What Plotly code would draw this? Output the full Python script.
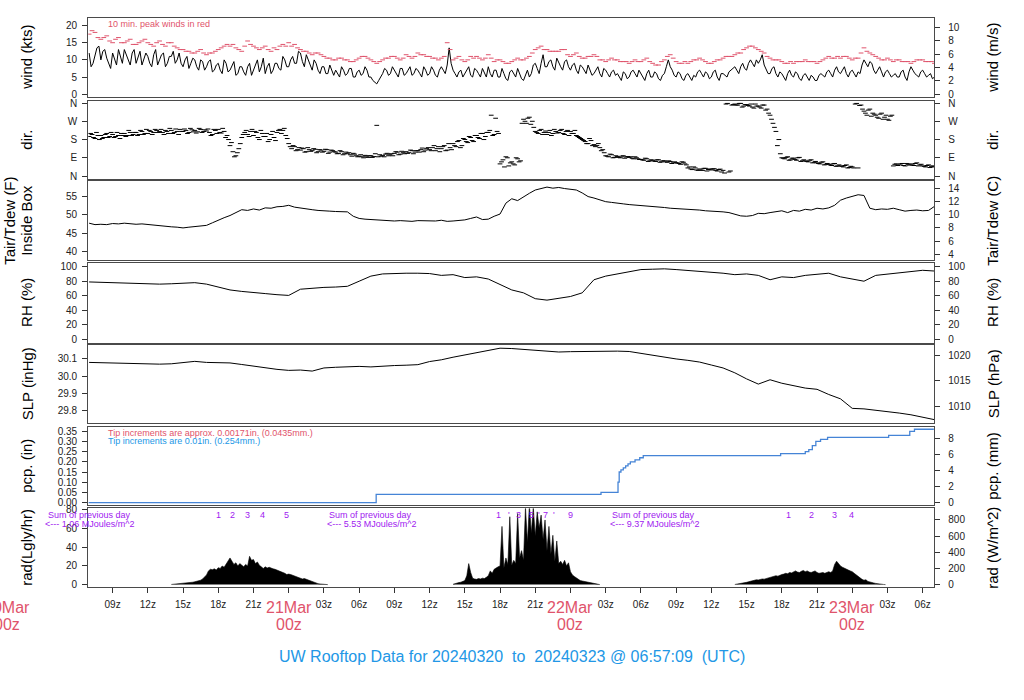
import pandas as pd
import plotly.graph_objects as go

# ---------------------------------------------------------------- data
BASE = "2024-03-20 00:00"

# wind speed (kts), every 20 min from 20Mar 07z
wind_start = "2024-03-20 07:00"
wind_kts = [
    12, 9, 13.5, 10, 13, 9, 12, 8.5, 11, 13, 10, 12, 9, 12.5, 10, 11, 8, 13,
    10, 12, 9, 11, 9, 12, 8, 11, 9, 10, 7, 9.5, 8, 10, 7, 9, 6, 9,
    7, 9.5, 6, 8, 5.5, 9, 7, 10, 8, 6, 9, 7, 9, 7, 10, 8, 11, 9,
    12, 8, 10, 7, 9, 6, 8, 6, 7, 7, 5, 7, 6, 7.5, 5, 7, 6, 7,
    5, 3.5, 4, 6, 7, 6, 7, 5, 7.5, 6, 8, 6, 7, 5, 7, 6, 7, 5,
    8, 6, 13.5, 7, 5, 7, 6, 8, 5, 7, 5, 6, 8, 5, 7, 5, 6, 4,
    7, 5, 6, 4, 7, 6, 9, 6, 11.5, 8, 10, 7, 9, 7, 10, 7, 9, 6,
    8, 6, 7, 6, 8, 5, 7, 5, 7, 6, 4, 6, 5, 7, 5, 6, 4, 7,
    5, 6, 4, 6, 10, 7, 5, 6, 4, 6, 4, 5, 7, 5, 6, 5, 7, 4,
    6, 5, 7, 8, 6, 9, 7, 10, 8, 9, 11.5, 7, 6, 8, 5, 6, 4, 7,
    5, 6, 4, 6, 4, 5, 4, 6, 5, 7, 5, 8, 6, 8, 5, 7, 5, 6,
    10, 8, 9, 6, 8, 5, 7, 5, 6, 5, 7, 4, 8, 6, 5, 7, 5, 6,
    5,
]
# wind speed (kts) at the 10-min points between the values above
wind_kts_mid = [
    8, 11, 14, 12.5, 10.5, 7.5, 10, 13, 9, 11.5, 8.5, 13, 11, 8.5, 12, 9, 11.5, 8.5,
    11.5, 8, 11, 12.5, 10, 9, 10, 7.5, 10.5, 8, 10, 7, 9.5, 6.5, 8.5, 7, 10, 6.5,
    8.5, 5.5, 8, 6.5, 8, 5.5, 9, 6.5, 10.5, 8, 6, 9, 7.5, 11, 8, 10, 9, 12.5,
    9.5, 11.5, 8, 10, 7, 8, 6, 8.5, 5.5, 6, 8, 5.5, 7.5, 5, 6.5, 5.5, 8, 5,
    4, 3, 5, 7.5, 5.5, 8, 6, 7.5, 5.5, 7, 5.5, 7.5, 6, 8, 5.5, 8, 5.5, 7,
    7, 8.5, 9, 6, 6.5, 5, 7, 5.5, 7.5, 6, 7.5, 5, 6, 7, 5, 7.5, 4.5, 6.5,
    6, 7.5, 4.5, 5.5, 5, 8.5, 7.5, 9, 8, 9.5, 8, 10.5, 8, 9.5, 8, 8.5, 7, 8.5,
    7, 8.5, 5.5, 7, 6, 7.5, 6, 6.5, 5.5, 5, 6.5, 4.5, 6.5, 6, 7, 5, 6, 5,
    6.5, 4.5, 5.5, 8, 8, 5.5, 6.5, 4.5, 5.5, 5, 5.5, 6.5, 6, 6.5, 4.5, 6.5, 5, 6,
    5.5, 6.5, 7.5, 7, 8, 7.5, 9, 9, 10, 10, 8.5, 6, 7.5, 6, 6.5, 5, 6, 5.5,
    6.5, 4.5, 5.5, 5, 5.5, 4, 5.5, 5.5, 6.5, 6, 7, 6.5, 7, 6, 6.5, 6, 6.5, 8.5,
    9, 9.5, 7, 7, 6.5, 6.5, 6, 5.5, 5, 6.5, 5, 6.5, 7, 5.5, 6.5, 6, 5.5, 4.5,
]

# 10-min peak wind (kts), every 30 min from 20Mar 07z
peak_start = "2024-03-20 07:00"
peak_kts = [
    17.5, 18, 16, 17, 15, 16.5, 15, 16, 14.5, 15.5, 15, 14, 15.5, 14, 15, 13.5,
    13, 12.5, 12, 13, 11.5, 12, 13, 14, 14, 13.5, 12.5, 15.5, 14, 13, 14, 12.5,
    13, 14.5, 15, 14.5, 13, 12.5, 11.5, 12, 11, 10.5, 10, 10.5, 10, 9.5, 10.5, 11,
    10, 9, 10, 10.5, 11, 10, 11.5, 10.5, 12, 11.5, 11, 10.5, 10.5, 15, 10, 11,
    9.5, 11, 11, 10, 11.5, 9.5, 10, 9, 9.5, 10.5, 10, 11, 13, 14, 13, 12.5,
    12.5, 13, 11, 12, 10.5, 11, 11.5, 10, 9.5, 10.5, 10, 9.5, 9, 10, 9.5, 10.5,
    9, 8.5, 10, 11.5, 9.5, 9, 9, 10, 10.5, 9.5, 9, 10, 10.5, 11, 11.5, 12,
    13.5, 14, 13, 12, 10.5, 10, 9.5, 9, 9, 9.5, 10, 9.5, 9, 10, 11, 10.5,
    10.5, 11, 10, 10.5, 13.5, 12, 11, 10, 10.5, 9.5, 10, 9.5, 9, 10, 10, 9.5,
    9,
]
# peak wind (kts) at the 15-min points between the values above
peak_kts_mid = [
    18.5, 16.5, 16.5, 15.5, 16, 15, 15.5, 14.5, 15, 16, 14.5, 15, 14.5, 15, 14, 13,
    12.5, 12, 12.5, 12, 12, 12.5, 13.5, 14.5, 14.5, 13, 14, 14.5, 13.5, 13.5, 13, 13.5,
    14, 14, 14, 13.5, 12.5, 12, 12, 11.5, 10.5, 10, 10.5, 10, 9.5, 10, 11, 10.5,
    9.5, 9.5, 10.5, 11, 10.5, 10.5, 11, 11, 11.5, 11, 10.5, 10, 11, 13, 10.5, 10,
    10, 10.5, 10.5, 10.5, 10.5, 10, 9.5, 9, 10, 10, 10.5, 12, 13.5, 13, 12.5, 12.5,
    13, 11.5, 11.5, 11, 10.5, 11, 11, 10, 10, 10, 9.5, 9.5, 9.5, 9.5, 10, 9.5,
    8.5, 9.5, 11, 10.5, 9, 9.5, 9.5, 10, 10, 9, 9.5, 10, 11, 11, 12, 13,
    14, 13.5, 12.5, 11, 10, 10, 9, 9.5, 9.5, 9.5, 9.5, 9.5, 9.5, 10.5, 10.5, 11,
    11, 10.5, 10.5, 12, 12.5, 11.5, 10.5, 10, 10, 10, 9.5, 9.5, 9.5, 10, 9.5, 9.5,
]

# wind direction (deg), every 15 min from 20Mar 07z
dir_start = "2024-03-20 07:00"
dir_deg = [
    195, 205, 185, 200, 200, 190, 210, 195, 205, 195, 200, 210, 210, 200, 215, 205,
    215, 205, 220, 210, 210, 220, 215, 225, 220, 215, 225, 210, 225, 215, 220, 230,
    220, 225, 215, 228, 225, 218, 230, 220, 222, 215, 205, 225, 230, 212, 220, 200,
    150, 120, 100, 135, 190, 215, 205, 220, 200, 215, 180, 210, 195, 170, 205, 190,
    215, 230, 225, 200, 160, 135, 145, 130, 128, 135, 120, 130, 125, 132, 120, 128,
    122, 130, 118, 125, 118, 112, 120, 110, 110, 105, 112, 100, 98, 95, 102, 92,
    100, 96, 250, 105, 102, 108, 100, 110, 112, 118, 108, 115, 120, 115, 125, 118,
    125, 130, 120, 135, 130, 140, 125, 145, 135, 150, 128, 140, 160, 145, 175, 150,
    180, 165, 190, 170, 200, 185, 210, 195, 215, 300, 205, 220, 60, 80, 95, 50,
    70, 55, 85, 75, 280, 260, 290, 270, 220, 210, 230, 215, 205, 225, 210, 220,
    215, 230, 205, 225, 220, 210, 200, 190, 180, 170, 160, 175, 155, 150, 140, 130,
    100, 95, 105, 92, 96, 90, 100, 94, 92, 88, 95, 85, 82, 78, 85, 75,
    78, 72, 80, 70, 75, 68, 72, 65, 66, 62, 70, 60, 40, 35, 45, 30,
    35, 28, 38, 32, 30, 36, 25, 34, 28, 355, 20, 350, 355, 350, 358, 345,
    352, 345, 340, 355, 345, 335, 350, 330, 300, 260, 220, 180, 90, 85, 95, 80,
    88, 78, 92, 75, 75, 70, 80, 68, 65, 60, 70, 58, 58, 52, 62, 50,
    50, 45, 55, 42, 45, 355, 40, 350, 320, 300, 330, 310, 300, 285, 310, 290,
    280, 295, 50, 60, 55, 62, 50, 58, 60, 52, 65, 55, 50, 45, 55, 48,
    45,
]
# wind direction (deg), every 15 min from 20Mar 07:07:30 (scatter samples)
dir_b_start = "2024-03-20 07:07:30"
dir_deg_b = [
    210, 190, 215, 180, 185, 205, 190, 215, 190, 215, 185, 200, 195, 225, 200, 215,
    200, 225, 205, 230, 225, 205, 230, 215, 230, 205, 220, 235, 210, 232, 205, 220,
    232, 210, 235, 218, 212, 235, 215, 228, 232, 200, 230, 210, 215, 235, 190, 180,
    165, 95, 115, 160, 205, 225, 195, 230, 220, 190, 225, 195, 210, 180, 220, 175,
    225, 210, 235, 185, 145, 150, 125, 140, 138, 118, 140, 122, 135, 115, 130, 118,
    132, 112, 128, 120, 110, 125, 105, 118, 115, 98, 108, 95, 105, 90, 98, 100,
    92, 110, 95, 98, 95, 112, 105, 100, 120, 105, 122, 110, 112, 128, 110, 125,
    118, 138, 128, 140, 125, 150, 135, 120, 145, 125, 160, 130, 150, 170, 140, 185,
    170, 195, 175, 200, 190, 210, 180, 215, 225, 200, 285, 210, 70, 45, 90, 65,
    60, 90, 70, 260, 270, 285, 255, 240, 215, 225, 205, 222, 215, 200, 230, 212,
    225, 210, 220, 200, 210, 225, 195, 185, 175, 160, 185, 150, 145, 160, 125, 115,
    98, 108, 90, 100, 92, 98, 88, 96, 95, 85, 90, 82, 80, 88, 72, 80,
    74, 80, 68, 75, 70, 75, 62, 70, 64, 58, 68, 55, 45, 32, 40, 28,
    30, 38, 25, 35, 35, 28, 32, 20, 15, 358, 25, 352, 350, 358, 340, 352,
    348, 355, 335, 345, 340, 350, 325, 310, 280, 240, 150, 110, 88, 92, 78, 88,
    82, 90, 72, 80, 72, 78, 65, 72, 62, 68, 55, 62, 55, 60, 48, 55,
    48, 52, 40, 48, 40, 358, 348, 330, 310, 325, 295, 305, 290, 305, 280, 300,
    275, 300, 58, 52, 60, 52, 62, 54, 55, 62, 50, 58, 48, 52, 42, 50,
]

# air temperature inside box (F), every 30 min from 20Mar 07z
temp_start = "2024-03-20 07:00"
temp_f = [
    47.7, 47.3, 47.4, 47.3, 47.6, 47.5, 47.7, 47.5, 47.4, 47.5, 47.3, 47.2,
    47.0, 46.9, 46.7, 46.6, 46.4, 46.6, 46.8, 46.9, 47.1, 47.8, 48.6, 49.2,
    49.8, 50.6, 51.4, 51.2, 51.6, 51.3, 51.9, 51.8, 52.2, 52.3, 52.6, 52.1,
    51.8, 51.5, 51.4, 51.2, 51.0, 51.0, 50.9, 50.9, 50.8, 49.6, 49.0, 48.8,
    48.7, 48.6, 48.4, 48.3, 48.3, 48.4, 48.3, 48.2, 48.4, 48.3, 48.4, 48.3,
    48.5, 48.2, 48.3, 48.4, 48.6, 49.0, 49.4, 48.7, 48.8, 49.6, 50.2, 53.2,
    54.4, 53.9, 55.0, 55.9, 56.8, 57.1, 57.6, 57.3, 57.5, 57.2, 57.1, 56.8,
    56.0, 55.0, 54.6, 54.0, 53.6, 53.4, 53.3, 53.0, 52.8, 52.7, 52.5, 52.4,
    52.2, 52.3, 52.0, 51.8, 51.7, 51.6, 51.5, 51.6, 51.3, 51.1, 51.0, 51.1,
    50.8, 50.6, 50.2, 49.7, 49.6, 49.8, 50.4, 50.3, 50.6, 50.8, 51.1, 50.6,
    51.2, 51.0, 51.5, 51.3, 51.8, 51.6, 51.9, 52.6, 54.0, 54.6, 55.0, 55.5,
    55.3, 51.8, 51.4, 51.6, 51.5, 51.8, 51.4, 51.0, 51.2, 51.3, 51.1, 51.2,
    52.3,
]

# relative humidity (%), hourly from 20Mar 07z
rh_start = "2024-03-20 07:00"
rh_pct = [
    79, 78.5, 78, 77.5, 76, 75.5, 76, 76.5, 77, 78, 76, 72,
    68, 66, 64, 63, 61.5, 60.5, 69, 70.5, 71.5, 72, 73, 80,
    87, 90, 91, 91, 91, 90.5, 88, 89, 85, 86, 83, 76,
    68, 64, 56, 54, 56, 59, 64, 82, 87, 90, 94, 96,
    96.5, 97, 96, 95, 93, 92, 91, 89, 90, 88, 82, 86,
    85, 88, 90, 91, 86, 83, 80, 88, 90, 92, 94, 95,
    94,
]

# sea-level pressure (inHg), hourly from 20Mar 07z
slp_start = "2024-03-20 07:00"
slp_inhg = [
    30.080, 30.078, 30.077, 30.075, 30.072, 30.071, 30.070, 30.072, 30.080, 30.086, 30.080, 30.078,
    30.077, 30.068, 30.058, 30.050, 30.040, 30.034, 30.036, 30.030, 30.048, 30.052, 30.055, 30.057,
    30.054, 30.060, 30.062, 30.064, 30.067, 30.085, 30.095, 30.110, 30.122, 30.138, 30.148, 30.162,
    30.160, 30.155, 30.146, 30.142, 30.140, 30.142, 30.143, 30.145, 30.144, 30.145, 30.143, 30.132,
    30.118, 30.110, 30.100, 30.092, 30.082, 30.065, 30.048, 30.020, 29.985, 29.955, 29.980, 29.960,
    29.944, 29.932, 29.925, 29.895, 29.870, 29.815, 29.812, 29.805, 29.798, 29.788, 29.778, 29.765,
    29.750,
]

# accumulated precipitation (in), step change times
pcp_time = [
    "2024-03-20 06:57", "2024-03-21 07:27", "2024-03-22 02:36", "2024-03-22 04:03",
    "2024-03-22 04:09", "2024-03-22 04:18", "2024-03-22 04:30", "2024-03-22 04:42",
    "2024-03-22 04:54", "2024-03-22 05:06", "2024-03-22 05:30", "2024-03-22 05:54",
    "2024-03-22 06:12", "2024-03-22 17:54", "2024-03-22 20:00", "2024-03-22 20:18",
    "2024-03-22 20:36", "2024-03-22 20:54", "2024-03-22 21:18", "2024-03-22 21:54",
    "2024-03-23 03:06", "2024-03-23 04:54", "2024-03-23 05:18", "2024-03-23 06:57",
]
pcp_in = [
    0.00, 0.04, 0.05, 0.10, 0.15, 0.16, 0.17, 0.18, 0.19, 0.20, 0.21, 0.22,
    0.23, 0.24, 0.25, 0.26, 0.28, 0.30, 0.31, 0.32, 0.33, 0.35, 0.36, 0.36,
]

# solar radiation (W/m^2), every 10 min during daylight
rad1_start = "2024-03-20 14:00"
rad1_wm2 = [
    2, 4, 6, 8, 10, 12, 14, 16, 20, 22, 26, 30, 35, 40, 45, 55, 70, 95,
    120, 170, 190, 185, 195, 180, 210, 200, 230, 215, 250, 280, 330, 290, 250, 270,
    230, 260, 240, 220, 250, 230, 350, 300, 310, 260, 280, 240, 220, 200, 220, 205,
    215, 200, 195, 190, 180, 175, 160, 150, 140, 125, 130, 125, 115, 100, 90, 80,
    75, 70, 75, 65, 55, 45, 35, 25, 18, 12, 8, 4, 2, 1, 0,
]
rad2_start = "2024-03-21 14:00"
rad2_wm2 = [
    5, 15, 20, 25, 30, 40, 50, 110, 260, 150, 80, 70, 65, 75, 70, 80, 75, 90,
    110, 170, 140, 190, 210, 220, 230, 720, 210, 330, 250, 840, 240, 300, 260, 880, 330, 420,
    300, 960, 520, 980, 640, 960, 600, 900, 700, 860, 560, 800, 420, 720, 380, 610, 290, 540,
    260, 290, 250, 300, 230, 270, 160, 120, 100, 80, 60, 50, 45, 40, 35, 28, 20, 15,
    10, 5, 2, 0,
]
rad3_start = "2024-03-22 14:00"
rad3_wm2 = [
    2, 5, 10, 14, 18, 22, 28, 35, 42, 50, 55, 60, 58, 65, 70, 68, 75, 80,
    85, 95, 100, 110, 105, 120, 125, 130, 140, 135, 150, 145, 160, 170, 155, 150, 165, 175,
    160, 170, 155, 150, 160, 170, 150, 140, 145, 150, 140, 155, 160, 150, 170, 250, 290, 260,
    230, 215, 200, 190, 180, 170, 160, 140, 120, 100, 80, 65, 55, 60, 40, 30, 25, 20,
    15, 10, 7, 4, 2, 0,
]

# annotation texts
day_sums = ["1.06", "5.53", "9.37"]
title_text = "UW Rooftop Data for 20240320  to  20240323 @ 06:57:09  (UTC)"

# ---------------------------------------------------------------- helpers
FONT = "Liberation Sans, Arial, Helvetica, sans-serif"
RED = "#DF536B"
BLUE = "#2297E6"
PURPLE = "#A020F0"
PCPC = "#4584D6"
LC = "#4a4a4a"

W_PX, H_PX = 1024, 700
X0_PX, X1_PX = 88.3, 934.3
XR_H = [6.93, 78.99]
base = pd.Timestamp(BASE)


def ts(h):
    return (base + pd.Timedelta(hours=h)).strftime("%Y-%m-%d %H:%M:%S")


def grid(start, freq, vals):
    return pd.date_range(start, periods=len(vals), freq=freq)


def interleave(a, mid):
    out = []
    for v, m in zip(a[:-1], mid):
        out += [v, m]
    return out + [a[-1]]


def hx(h):  # hours -> paper x (through the axis mapping)
    f = (h - XR_H[0]) / (XR_H[1] - XR_H[0])
    return (X0_PX + f * (X1_PX - X0_PX)) / W_PX


def py(p):
    return 1 - p / H_PX


PANELS = [(13.5, 93.0), (96.7, 175.7), (178.3, 258.3), (261.0, 341.7),
          (344.0, 423.3), (426.7, 505.7), (509.3, 588.7)]

KTS_MS = 1.94384
INHG_HPA = 33.8639
IN_MM = 25.4
LY_W = 11.622

left_specs = [
    dict(range=[-0.8, 22.1], tickvals=[0, 5, 10, 15, 20]),
    dict(range=[-13, 372], tickvals=[0, 90, 180, 270, 360], ticktext=["N", "E", "S", "W", "N"]),
    dict(range=[37.5, 59.2], tickvals=[40, 45, 50, 55]),
    dict(range=[-4.6, 105], tickvals=[0, 20, 40, 60, 80, 100]),
    dict(range=[29.728, 30.18], tickvals=[29.8, 29.9, 30.0, 30.1], tickformat=".1f"),
    dict(range=[-0.0117, 0.372], tickvals=[0, 0.05, 0.1, 0.15, 0.2, 0.25, 0.3, 0.35], tickformat=".2f"),
    dict(range=[-2.5, 81.05], tickvals=[0, 20, 40, 60, 80]),
]
lr = [s["range"] for s in left_specs]
right_specs = [
    dict(range=[v / KTS_MS for v in lr[0]], tickvals=[0, 2, 4, 6, 8, 10]),
    dict(range=lr[1], tickvals=[0, 90, 180, 270, 360], ticktext=["N", "E", "S", "W", "N"]),
    dict(range=[(v - 32) / 1.8 for v in lr[2]], tickvals=[4, 6, 8, 10, 12, 14]),
    dict(range=lr[3], tickvals=[0, 20, 40, 60, 80, 100]),
    dict(range=[v * INHG_HPA for v in lr[4]], tickvals=[1010, 1015, 1020]),
    dict(range=[v * IN_MM for v in lr[5]], tickvals=[0, 2, 4, 6, 8]),
    dict(range=[v * LY_W for v in lr[6]], tickvals=[0, 200, 400, 600, 800]),
]

left_titles = ["wind (kts)", "dir.", "Inside Box", "RH (%)", "SLP (inHg)", "pcp. (in)", "rad(Lgly/hr)"]
right_titles = ["wind (m/s)", "dir.", "Tair/Tdew (C)", "RH (%)", "SLP (hPa)", "pcp. (mm)", "rad (W/m^2)"]

layout = dict(width=W_PX, height=H_PX, margin=dict(l=0, r=0, t=0, b=0),
              paper_bgcolor="white", plot_bgcolor="rgba(0,0,0,0)", showlegend=False,
              font=dict(family=FONT, size=10, color="#222"))

xticks_h = list(range(9, 79, 3))
xtick_vals = [ts(h) for h in xticks_h]
xtick_text = ["" if h % 24 == 0 else f"{h % 24:02d}z" for h in xticks_h]

for i, (top, bot) in enumerate(PANELS, start=1):
    xn = "x" if i == 1 else f"x{i}"
    yn = "y" if i == 1 else f"y{i}"
    xa = dict(domain=[X0_PX / W_PX, X1_PX / W_PX], range=[ts(XR_H[0]), ts(XR_H[1])],
              anchor=yn, showline=True, mirror=True, linecolor=LC, linewidth=1.3,
              showgrid=False, zeroline=False, type="date")
    if i > 1:
        xa["matches"] = "x"
    if i == 7:
        xa.update(tickmode="array", tickvals=xtick_vals, ticktext=xtick_text,
                  ticks="outside", ticklen=5, tickcolor="#333", tickwidth=1,
                  ticklabelstandoff=3, tickfont=dict(size=10, color="#222"))
    else:
        xa.update(showticklabels=False, ticks="")
    layout["xaxis" if i == 1 else f"xaxis{i}"] = xa

    dom = [py(bot), py(top)]
    ls = left_specs[i - 1]
    ya = dict(domain=dom, range=ls["range"], anchor=xn, tickmode="array",
              tickvals=ls["tickvals"], ticks="outside", ticklen=5, tickcolor="#333",
              showline=True, mirror=True, linecolor=LC, linewidth=1.3,
              showgrid=False, zeroline=False, ticklabelstandoff=3,
              tickfont=dict(size=10, color="#222"))
    if "ticktext" in ls:
        ya["ticktext"] = ls["ticktext"]
    if "tickformat" in ls:
        ya["tickformat"] = ls["tickformat"]
    layout["yaxis" if i == 1 else f"yaxis{i}"] = ya

    rs = right_specs[i - 1]
    yr = dict(overlaying=yn, side="right", anchor=xn, range=rs["range"], tickmode="array",
              tickvals=rs["tickvals"], ticks="outside", ticklen=5, tickcolor="#333",
              showline=False, showgrid=False, zeroline=False, ticklabelstandoff=6,
              tickfont=dict(size=10, color="#222"))
    if "ticktext" in rs:
        yr["ticktext"] = rs["ticktext"]
    layout[f"yaxis{i + 7}"] = yr

fig = go.Figure(layout=layout)

# invisible placeholder traces so that every axis (left and right) is registered
for i in range(1, 8):
    xn = "x" if i == 1 else f"x{i}"
    for yn in (("y" if i == 1 else f"y{i}"), f"y{i + 7}"):
        fig.add_trace(go.Scatter(x=[None], y=[None], mode="markers", xaxis=xn, yaxis=yn,
                                 hoverinfo="skip", showlegend=False))

# ---------------------------------------------------------------- traces
wind_all = interleave(wind_kts, wind_kts_mid)
peak_all = interleave(peak_kts, peak_kts_mid)
dash = dict(symbol="line-ew", size=3.4)

fig.add_trace(go.Scatter(x=grid(wind_start, "10min", wind_all), y=wind_all, mode="lines",
                         line=dict(color="black", width=1), xaxis="x", yaxis="y"))
fig.add_trace(go.Scatter(x=grid(peak_start, "15min", peak_all), y=peak_all, mode="markers",
                         marker=dict(**dash, line=dict(color=RED, width=1)),
                         xaxis="x", yaxis="y"))
for st, vals in [(dir_start, dir_deg), (dir_b_start, dir_deg_b)]:
    fig.add_trace(go.Scatter(x=grid(st, "15min", vals), y=vals, mode="markers",
                             marker=dict(**dash, line=dict(color="black", width=1)),
                             xaxis="x2", yaxis="y2"))
fig.add_trace(go.Scatter(x=grid(temp_start, "30min", temp_f), y=temp_f, mode="lines",
                         line=dict(color="black", width=1), xaxis="x3", yaxis="y3"))
fig.add_trace(go.Scatter(x=grid(rh_start, "1h", rh_pct), y=rh_pct, mode="lines",
                         line=dict(color="black", width=1), xaxis="x4", yaxis="y4"))
fig.add_trace(go.Scatter(x=grid(slp_start, "1h", slp_inhg), y=slp_inhg, mode="lines",
                         line=dict(color="black", width=1), xaxis="x5", yaxis="y5"))
fig.add_trace(go.Scatter(x=pcp_time, y=pcp_in, mode="lines", line_shape="hv",
                         line=dict(color=PCPC, width=1.3), xaxis="x6", yaxis="y6"))
for st, vals in [(rad1_start, rad1_wm2), (rad2_start, rad2_wm2), (rad3_start, rad3_wm2)]:
    fig.add_trace(go.Scatter(x=grid(st, "10min", vals), y=vals, mode="lines", fill="tozeroy",
                             fillcolor="black", line=dict(color="black", width=0.6),
                             xaxis="x7", yaxis="y14"))

# ---------------------------------------------------------------- text
ann = []


def add(text, x, y, size=9, color="black", xanchor="center", angle=0):
    ann.append(dict(text=text, x=x, y=y, xref="paper", yref="paper", showarrow=False,
                    xanchor=xanchor, yanchor="middle", textangle=angle,
                    font=dict(family=FONT, size=size, color=color)))


for i, (top, bot) in enumerate(PANELS):
    cy = py((top + bot) / 2)
    add(left_titles[i], 27 / W_PX, cy, size=15, angle=-90)
    add(right_titles[i], 993 / W_PX, cy, size=15, angle=-90)
add("Tair/Tdew (F)", 10 / W_PX, py((PANELS[2][0] + PANELS[2][1]) / 2), size=15, angle=-90)

add("10 min. peak winds in red", 106 / W_PX, py(19), size=9, color=RED, xanchor="left")
add("Tip increments are approx. 0.00171in. (0.0435mm.)", 106 / W_PX, py(433), size=9,
    color=RED, xanchor="left")
add("Tip increments are 0.01in. (0.254mm.)", 106 / W_PX, py(441.5), size=9,
    color=BLUE, xanchor="left")

# daily radiation sums
for h_c, s in zip([7.0, 31.0, 55.1], day_sums):
    add("Sum of previous day", hx(h_c), py(515.5), size=9, color=PURPLE)
    add("<--- " + s + " MJoules/m^2", hx(h_c + 0.1), py(525.5), size=9, color=PURPLE)

hour_marks = [(17.98, "1"), (19.17, "2"), (20.53, "3"), (21.81, "4"), (23.85, "5"),
              (41.9, "1"), (42.75, "'"), (43.6, "3"), (44.72, "5"), (45.3, "'"),
              (45.85, "7"), (46.6, "'"), (47.96, "9"),
              (66.6, "1"), (68.5, "2"), (70.45, "3"), (71.9, "4")]
for h, t in hour_marks:
    add(t, hx(h), py(515.5), size=9, color=PURPLE)

for d, lab in [(0, "20Mar"), (24, "21Mar"), (48, "22Mar"), (72, "23Mar")]:
    add(lab, hx(d), py(609.5), size=16, color=RED)
    add("00z", hx(d), py(627), size=16, color=RED)

add(title_text.replace(" ", "\u00a0"), 512 / W_PX, py(659), size=16, color=BLUE)

fig.update_layout(annotations=ann)
fig.write_html("out.html", config={"displayModeBar": False},
               post_script="document.body.style.margin='0';document.body.style.overflow='hidden';")
